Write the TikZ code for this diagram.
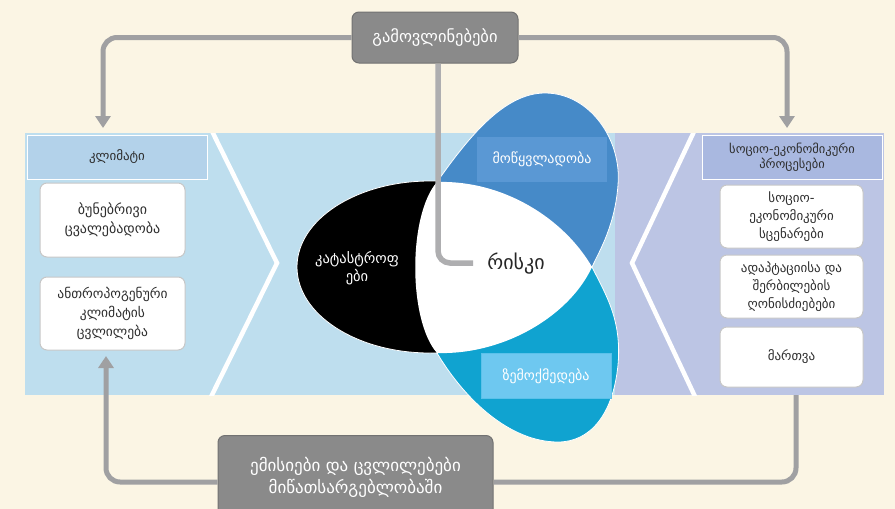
\documentclass[tikz,border=0pt]{standalone}
\usepackage{fontspec}
\setmainfont{DejaVu Sans}
\usetikzlibrary{arrows.meta}

\definecolor{cream}{HTML}{FBF5E4}
\definecolor{bandblue}{HTML}{BEDEEE}
\definecolor{hdrblue}{HTML}{B3D2EA}
\definecolor{lavender}{HTML}{BCC5E4}
\definecolor{hdrlav}{HTML}{A9B8E0}
\definecolor{petalblue}{HTML}{468AC8}
\definecolor{labelblue}{HTML}{5A98D4}
\definecolor{petalteal}{HTML}{10A3D0}
\definecolor{labelteal}{HTML}{6EC8F0}
\definecolor{boxgray}{HTML}{8A8A8A}
\definecolor{boxedge}{HTML}{727272}
\definecolor{linegray}{HTML}{A0A0A2}
\definecolor{txtdark}{HTML}{2E2E2E}

\begin{document}
\begin{tikzpicture}[x=1pt,y=-1pt,
  graybox/.style={draw=boxedge,line width=1pt,fill=boxgray,rounded corners=7pt,
    text=white,align=center,inner sep=0pt},
  header/.style={draw=white,line width=0.8pt,minimum width=180pt,minimum height=44pt,
    align=center,text=txtdark,inner sep=0pt},
  itembox/.style={draw=black!22,line width=1pt,fill=white,rounded corners=7pt,
    align=center,text=txtdark,inner sep=0pt},
  petallabel/.style={minimum width=130pt,minimum height=45pt,text=white,
    font=\fontsize{14}{16}\selectfont,inner sep=0pt},
  conn/.style={draw=linegray,line width=5pt,rounded corners=14pt},
  tip/.style={-{Triangle[width=15pt,length=12pt]}}
]
\clip (0,0) rectangle (895,509);
\fill[cream] (0,0) rectangle (895,509);

% main band
\fill[bandblue] (25,133) rectangle (615,395);
\fill[lavender] (615,133) rectangle (884,395);
\begin{scope}
  \clip (25,133) rectangle (884,395);
  \draw[white,line width=4.5pt] (207,121) -- (277,263) -- (207,405);
  \draw[white,line width=4.5pt] (699,121) -- (632,263) -- (699,405);
\end{scope}

% headers
\node[header,fill=hdrblue,font=\fontsize{13}{15}\selectfont] (klimati) at (117,157) {კლიმატი};
\node[header,fill=hdrlav,font=\fontsize{12.5}{15}\selectfont] (socproc) at (792,157) {სოციო-ეკონომიკური\\პროცესები};

% left column
\node[itembox,minimum width=145pt,minimum height=74pt,font=\fontsize{14}{19.5}\selectfont] (natvar) at (112.5,220) {ბუნებრივი\\ცვალებადობა};
\node[itembox,minimum width=145pt,minimum height=73pt,font=\fontsize{13.5}{19}\selectfont] (anthro) at (112.5,313.5) {ანთროპოგენური\\კლიმატის\\ცვლილება};

% right column
\node[itembox,minimum width=143pt,minimum height=63pt,font=\fontsize{13}{18}\selectfont] (scen) at (791.5,216.5) {სოციო-\\ეკონომიკური\\სცენარები};
\node[itembox,minimum width=143pt,minimum height=63pt,font=\fontsize{13}{18}\selectfont] (adapt) at (791.5,286.5) {ადაპტაციისა და\\შერბილების\\ღონისძიებები};
\node[itembox,minimum width=143pt,minimum height=60pt,font=\fontsize{13}{18}\selectfont] (gov) at (791.5,357) {მართვა};

% hazard / vulnerability / exposure shapes
\coordinate (p1) at (437,182);
\coordinate (p2) at (437,353);
\coordinate (apex) at (592,267);
\fill[black,draw=white,line width=0.8pt] (430,267) ellipse [x radius=133, y radius=86];
\fill[petalblue,draw=white,line width=0.8pt] (p1) .. controls (470,135) and (505,93) .. (545,93)
  .. controls (590,93) and (622,140) .. (618,185)
  .. controls (615,225) and (600,250) .. (apex) -- cycle;
\fill[petalteal,draw=white,line width=0.8pt] (apex) .. controls (606,295) and (622,320) .. (618,365)
  .. controls (613,415) and (590,442) .. (558,442)
  .. controls (510,442) and (465,400) .. (p2) -- cycle;
\fill[white] (p1) .. controls (505,180) and (565,220) .. (apex)
  .. controls (570,315) and (505,355) .. (p2)
  .. controls (408,320) and (408,215) .. (p1) -- cycle;

\node[petallabel,fill=labelblue] (vuln) at (542,159.5) {მოწყვლადობა};
\node[petallabel,fill=labelteal,draw=labelteal!80!petalteal,line width=0.8pt] (expo) at (546,376) {ზემოქმედება};
\node[white,align=center,font=\fontsize{14.5}{18}\selectfont] (hazard) at (357,268) {კატასტროფ\\ები};
\node[text=black!85,font=\fontsize{20}{22}\selectfont] (risk) at (516,264) {რისკი};

% top box and its connectors
\node[graybox,minimum width=166pt,minimum height=51pt,font=\fontsize{16.5}{18}\selectfont] (manif) at (435,37.5) {გამოვლინებები};
\coordinate (tipL) at (103,128);
\coordinate (tipR) at (787,128);
\coordinate (riskin) at (473,263);
\draw[conn,tip] (manif.west) -| (tipL);
\draw[conn,tip] (manif.east) -| (tipR);
\draw[draw=linegray!85!white,line width=5.5pt,rounded corners=12pt] (manif.south -| 438,0) |- (riskin);

% bottom box and its connectors
\node[graybox,minimum width=275pt,minimum height=86pt,anchor=north] (emis) at (355.5,435) {};
\node[white,align=center,font=\fontsize{17}{22}\selectfont] (emistext) at (355.5,477) {ემისიები და ცვლილებები\\მიწათსარგებლობაში};
\coordinate (tipB) at (106,356);
\coordinate (govout) at (796,395);
\draw[conn,tip] (emis.west |- 0,482) -| (tipB);
\draw[conn] (govout) |- (emis.east |- 0,482);
\end{tikzpicture}
\end{document}
